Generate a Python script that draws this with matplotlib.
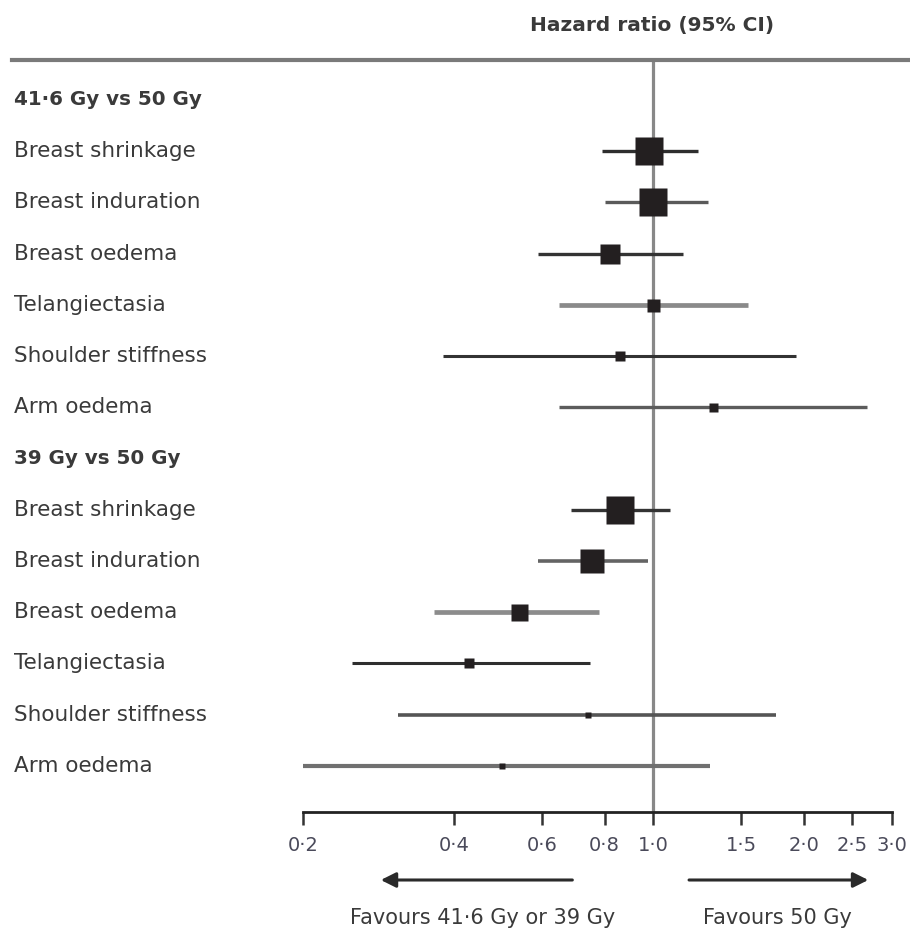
import numpy as np
import matplotlib
matplotlib.use("Agg")
import matplotlib.pyplot as plt
from matplotlib.lines import Line2D
from matplotlib.transforms import blended_transform_factory

plt.rcParams['font.family'] = ['DejaVu Sans']

# rows top to bottom (None = group header)
labels = ["41·6 Gy vs 50 Gy",
          "Breast shrinkage", "Breast induration", "Breast oedema",
          "Telangiectasia", "Shoulder stiffness", "Arm oedema",
          "39 Gy vs 50 Gy",
          "Breast shrinkage", "Breast induration", "Breast oedema",
          "Telangiectasia", "Shoulder stiffness", "Arm oedema"]
headers = [0, 7]

hr = [None, 0.98, 1.00, 0.82, 1.00, 0.86, 1.32,
      None, 0.86, 0.755, 0.54, 0.43, 0.74, 0.50]
lo = [None, 0.79, 0.80, 0.59, 0.65, 0.38, 0.65,
      None, 0.685, 0.59, 0.365, 0.25, 0.31, 0.197]
hi = [None, 1.23, 1.29, 1.15, 1.55, 1.93, 2.68,
      None, 1.08, 0.975, 0.78, 0.75, 1.76, 1.30]

# box side in pixels (weight of each estimate)
box_px = [0, 28, 28, 20, 13, 10, 9, 0, 28, 24, 17, 10, 6, 6]
ci_colors = [None, '#2e2e2e', '#5a5a5a', '#333333', '#8a8a8a', '#333333', '#5c5c5c',
             None, '#333333', '#646464', '#8c8c8c', '#2e2e2e', '#555555', '#707070']
ci_lw = [0, 2.4, 2.4, 2.4, 3.4, 2.2, 2.4, 0, 2.4, 2.6, 3.4, 2.2, 2.6, 3.0]

ticks = [0.2, 0.4, 0.6, 0.8, 1.0, 1.5, 2.0, 2.5, 3.0]
tick_labels = ["0·2", "0·4", "0·6", "0·8", "1·0", "1·5", "2·0", "2·5", "3·0"]

W, H = 910, 936
fig = plt.figure(figsize=(W / 100, H / 100), dpi=100)
ax = fig.add_axes([303 / W, 1 - 812 / H, (892 - 303) / W, (812 - 60) / H])
ax.set_xscale('log')
ax.set_xlim(0.2, 3.0)
ax.set_ylim(13.9, -0.78)

txt = '#3a3a3a'

# reference line at 1
ax.axvline(1.0, color='#888888', lw=2.3, zorder=1)

for i in range(len(labels)):
    if i in headers:
        continue
    ax.plot([lo[i], hi[i]], [i, i], color=ci_colors[i], lw=ci_lw[i],
            solid_capstyle='butt', zorder=2)
    ax.plot(hr[i], i, marker='s', ms=box_px[i] * 0.72, color='#231f20',
            mec='none', zorder=3)

# row labels
tr = blended_transform_factory(fig.transFigure, ax.transData)
for i, lab in enumerate(labels):
    if i in headers:
        ax.text(14 / W, i, lab, transform=tr, ha='left', va='center',
                fontsize=14.3, color=txt, fontweight='bold')
    else:
        ax.text(14 / W, i, lab, transform=tr, ha='left', va='center',
                fontsize=15.5, color=txt)

# axis
for s in ['top', 'left', 'right']:
    ax.spines[s].set_visible(False)
ax.spines['bottom'].set_linewidth(2.0)
ax.spines['bottom'].set_color('#222222')
ax.set_yticks([])
ax.set_xticks(ticks)
ax.set_xticks([], minor=True)
ax.set_xticklabels(tick_labels, fontsize=14, color='#4a4a5a')
ax.tick_params(axis='x', direction='out', length=9, width=1.8, color='#333333', pad=8)

# top rule and header
fig.add_artist(Line2D([12 / W, 1.0], [1 - 60 / H, 1 - 60 / H], color='#7a7a7a', lw=3.0))
fig.text(652 / W, 1 - 25 / H, "Hazard ratio (95% CI)", ha='center', va='center',
         fontsize=14.5, fontweight='bold', color=txt)

# favour arrows
trx = blended_transform_factory(ax.transData, fig.transFigure)
ay = 1 - 880 / H
ax.annotate('', xy=(0.286, ay), xytext=(0.69, ay), xycoords=trx, textcoords=trx,
            arrowprops=dict(arrowstyle='-|>,head_length=0.9,head_width=0.45',
                            color='#2a2a2a', lw=2.2, shrinkA=0, shrinkB=0))
ax.annotate('', xy=(2.69, ay), xytext=(1.18, ay), xycoords=trx, textcoords=trx,
            arrowprops=dict(arrowstyle='-|>,head_length=0.9,head_width=0.45',
                            color='#2a2a2a', lw=2.2, shrinkA=0, shrinkB=0))
fig.text(483 / W, 1 - 918 / H, "Favours 41·6 Gy or 39 Gy", ha='center', va='center',
         fontsize=15, color=txt)
fig.text(777 / W, 1 - 918 / H, "Favours 50 Gy", ha='center', va='center',
         fontsize=15, color=txt)

fig.savefig('out.png', dpi=100)
